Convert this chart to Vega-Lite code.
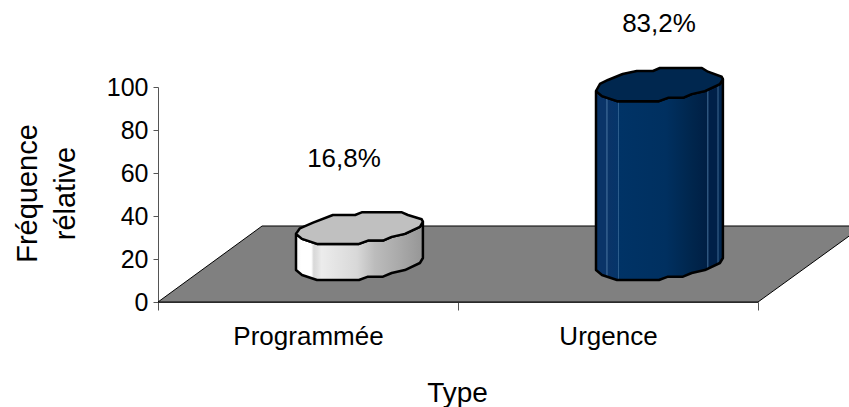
{
  "$schema": "https://vega.github.io/schema/vega-lite/v6.json",
  "width": 600,
  "height": 215,
  "autosize": {"type": "none"},
  "padding": {"left": 158, "top": 87, "right": 91, "bottom": 105},
  "background": "white",
  "config": {
    "view": {"stroke": null},
    "font": "Liberation Sans",
    "axis": {"grid": false, "domainColor": "#555555", "tickColor": "#555555", "labelColor": "black", "titleColor": "black", "labelFont": "Liberation Sans", "titleFont": "Liberation Sans", "labelFontSize": 25, "titleFontSize": 28, "titleFontWeight": "normal"}
  },
  "datasets": {
    "types": [
      {"type": "Programmée", "valeur": 16.8, "etiquette": "16,8%", "xEtiquette": 0.62, "yEtiquette": 66.7},
      {"type": "Urgence", "valeur": 83.2, "etiquette": "83,2%", "xEtiquette": 1.67, "yEtiquette": 129.1}
    ],
    "sol": [
      {"profondeur": 0, "gauche": 0, "droite": 2},
      {"profondeur": 35.35, "gauche": 0.347, "droite": 2.35}
    ],
    "flancs": [
      {"type": "Programmée", "x": 0.46, "bas": 14.88, "haut": 31.68},
      {"type": "Programmée", "x": 0.48, "bas": 12.56, "haut": 29.36},
      {"type": "Programmée", "x": 0.53, "bas": 10.23, "haut": 27.03},
      {"type": "Programmée", "x": 0.67, "bas": 10.23, "haut": 27.03},
      {"type": "Programmée", "x": 0.70, "bas": 11.77, "haut": 28.57},
      {"type": "Programmée", "x": 0.75, "bas": 11.77, "haut": 28.57},
      {"type": "Programmée", "x": 0.779, "bas": 13.49, "haut": 30.29},
      {"type": "Programmée", "x": 0.823, "bas": 14.88, "haut": 31.68},
      {"type": "Programmée", "x": 0.873, "bas": 18.14, "haut": 34.94},
      {"type": "Programmée", "x": 0.883, "bas": 20.47, "haut": 37.27},
      {"type": "Urgence", "x": 1.46, "bas": 14.88, "haut": 98.08},
      {"type": "Urgence", "x": 1.48, "bas": 12.56, "haut": 95.76},
      {"type": "Urgence", "x": 1.53, "bas": 10.23, "haut": 93.43},
      {"type": "Urgence", "x": 1.67, "bas": 10.23, "haut": 93.43},
      {"type": "Urgence", "x": 1.70, "bas": 11.77, "haut": 94.97},
      {"type": "Urgence", "x": 1.75, "bas": 11.77, "haut": 94.97},
      {"type": "Urgence", "x": 1.779, "bas": 13.49, "haut": 96.69},
      {"type": "Urgence", "x": 1.823, "bas": 14.88, "haut": 98.08},
      {"type": "Urgence", "x": 1.873, "bas": 18.14, "haut": 101.34},
      {"type": "Urgence", "x": 1.883, "bas": 20.47, "haut": 103.67}
    ],
    "couvercles": [
      {"type": "Programmée", "rang": 1, "x": 0.46, "y": 31.68},
      {"type": "Programmée", "rang": 2, "x": 0.473, "y": 34.28},
      {"type": "Programmée", "rang": 3, "x": 0.517, "y": 36.88},
      {"type": "Programmée", "rang": 4, "x": 0.583, "y": 40.47},
      {"type": "Programmée", "rang": 5, "x": 0.657, "y": 40.47},
      {"type": "Programmée", "rang": 6, "x": 0.679, "y": 41.72},
      {"type": "Programmée", "rang": 7, "x": 0.813, "y": 41.72},
      {"type": "Programmée", "rang": 8, "x": 0.833, "y": 40.47},
      {"type": "Programmée", "rang": 9, "x": 0.879, "y": 38.47},
      {"type": "Programmée", "rang": 10, "x": 0.883, "y": 37.27},
      {"type": "Programmée", "rang": 11, "x": 0.873, "y": 34.94},
      {"type": "Programmée", "rang": 12, "x": 0.823, "y": 31.68},
      {"type": "Programmée", "rang": 13, "x": 0.779, "y": 30.29},
      {"type": "Programmée", "rang": 14, "x": 0.75, "y": 28.57},
      {"type": "Programmée", "rang": 15, "x": 0.70, "y": 28.57},
      {"type": "Programmée", "rang": 16, "x": 0.67, "y": 27.03},
      {"type": "Programmée", "rang": 17, "x": 0.53, "y": 27.03},
      {"type": "Programmée", "rang": 18, "x": 0.48, "y": 29.36},
      {"type": "Programmée", "rang": 19, "x": 0.46, "y": 31.68},
      {"type": "Urgence", "rang": 1, "x": 1.46, "y": 98.08},
      {"type": "Urgence", "rang": 2, "x": 1.473, "y": 101.4},
      {"type": "Urgence", "rang": 3, "x": 1.5, "y": 103.26},
      {"type": "Urgence", "rang": 4, "x": 1.549, "y": 106.05},
      {"type": "Urgence", "rang": 5, "x": 1.596, "y": 107.44},
      {"type": "Urgence", "rang": 6, "x": 1.65, "y": 107.44},
      {"type": "Urgence", "rang": 7, "x": 1.673, "y": 108.84},
      {"type": "Urgence", "rang": 8, "x": 1.813, "y": 108.84},
      {"type": "Urgence", "rang": 9, "x": 1.833, "y": 107.12},
      {"type": "Urgence", "rang": 10, "x": 1.879, "y": 104.79},
      {"type": "Urgence", "rang": 11, "x": 1.883, "y": 103.67},
      {"type": "Urgence", "rang": 12, "x": 1.873, "y": 101.34},
      {"type": "Urgence", "rang": 13, "x": 1.823, "y": 98.08},
      {"type": "Urgence", "rang": 14, "x": 1.779, "y": 96.69},
      {"type": "Urgence", "rang": 15, "x": 1.75, "y": 94.97},
      {"type": "Urgence", "rang": 16, "x": 1.70, "y": 94.97},
      {"type": "Urgence", "rang": 17, "x": 1.67, "y": 93.43},
      {"type": "Urgence", "rang": 18, "x": 1.53, "y": 93.43},
      {"type": "Urgence", "rang": 19, "x": 1.48, "y": 95.76},
      {"type": "Urgence", "rang": 20, "x": 1.46, "y": 98.08}
    ]
  },
  "layer": [
    {
      "data": {"name": "types"},
      "mark": {"type": "bar", "opacity": 0},
      "encoding": {
        "x": {"field": "type", "type": "nominal", "sort": null, "scale": {"paddingInner": 0, "paddingOuter": 0},
          "axis": {"title": "Type", "labelAngle": 0, "labelPadding": 13, "labelFontSize": 26, "tickBand": "extent", "tickSize": 8, "titleY": 77, "titleX": 299, "titleAnchor": "middle"}},
        "y": {"field": "valeur", "type": "quantitative", "scale": {"domain": [0, 100], "nice": false},
          "axis": {"title": ["Fréquence", "rélative"], "values": [0, 20, 40, 60, 80, 100], "tickSize": 5, "labelPadding": 5, "titleFontSize": 29, "titleLineHeight": 38, "titleX": -116, "titleY": 106, "titleAnchor": "middle"}}
      }
    },
    {
      "data": {"name": "sol"},
      "mark": {"type": "area", "orient": "horizontal", "fill": "#808080", "stroke": "black", "strokeWidth": 1},
      "encoding": {
        "y": {"field": "profondeur", "type": "quantitative", "scale": {"domain": [0, 100], "nice": false}, "axis": null},
        "x": {"field": "gauche", "type": "quantitative", "scale": {"domain": [0, 2], "nice": false}, "axis": null},
        "x2": {"field": "droite"}
      }
    },
    {
      "data": {"name": "flancs"},
      "transform": [{"filter": "datum.type === 'Programmée'"}],
      "mark": {"type": "area", "stroke": "black", "strokeWidth": 2.5, "strokeJoin": "round",
        "fill": {"gradient": "linear", "x1": 0, "y1": 0, "x2": 1, "y2": 0, "stops": [
          {"offset": 0, "color": "#f4f4f4"}, {"offset": 0.04, "color": "#ffffff"}, {"offset": 0.12, "color": "#ffffff"},
          {"offset": 0.14, "color": "#d8d8d8"}, {"offset": 0.17, "color": "#e0e0e0"}, {"offset": 0.2, "color": "#ececec"},
          {"offset": 0.48, "color": "#d8d8d8"}, {"offset": 0.62, "color": "#bcbcbc"}, {"offset": 0.8, "color": "#ababab"}, {"offset": 1, "color": "#969696"}]}},
      "encoding": {
        "x": {"field": "x", "type": "quantitative", "scale": {"domain": [0, 2], "nice": false}, "axis": null},
        "y": {"field": "bas", "type": "quantitative", "scale": {"domain": [0, 100], "nice": false}, "axis": null},
        "y2": {"field": "haut"}
      }
    },
    {
      "data": {"name": "flancs"},
      "transform": [{"filter": "datum.type === 'Urgence'"}],
      "mark": {"type": "area", "stroke": "black", "strokeWidth": 2.5, "strokeJoin": "round",
        "fill": {"gradient": "linear", "x1": 0, "y1": 0, "x2": 1, "y2": 0, "stops": [
          {"offset": 0, "color": "#0a3468"}, {"offset": 0.08, "color": "#0a3468"}, {"offset": 0.085, "color": "#4a76a2"}, {"offset": 0.095, "color": "#0a3468"},
          {"offset": 0.17, "color": "#05356a"}, {"offset": 0.175, "color": "#3a6a98"}, {"offset": 0.185, "color": "#003366"},
          {"offset": 0.55, "color": "#003060"}, {"offset": 0.75, "color": "#00264d"}, {"offset": 0.875, "color": "#001f44"},
          {"offset": 0.88, "color": "#3f6a94"}, {"offset": 0.89, "color": "#002048"}, {"offset": 0.955, "color": "#002048"},
          {"offset": 0.96, "color": "#3f6a94"}, {"offset": 0.97, "color": "#012650"}, {"offset": 1, "color": "#012650"}]}},
      "encoding": {
        "x": {"field": "x", "type": "quantitative", "scale": {"domain": [0, 2], "nice": false}, "axis": null},
        "y": {"field": "bas", "type": "quantitative", "scale": {"domain": [0, 100], "nice": false}, "axis": null},
        "y2": {"field": "haut"}
      }
    },
    {
      "data": {"name": "couvercles"},
      "transform": [{"filter": "datum.type === 'Programmée'"}],
      "mark": {"type": "line", "fill": "#c0c0c0", "stroke": "black", "strokeWidth": 2.5, "strokeJoin": "round"},
      "encoding": {
        "x": {"field": "x", "type": "quantitative", "scale": {"domain": [0, 2], "nice": false}, "axis": null},
        "y": {"field": "y", "type": "quantitative", "scale": {"domain": [0, 100], "nice": false}, "axis": null},
        "order": {"field": "rang", "type": "ordinal"}
      }
    },
    {
      "data": {"name": "couvercles"},
      "transform": [{"filter": "datum.type === 'Urgence'"}],
      "mark": {"type": "line", "fill": "#00274f", "stroke": "black", "strokeWidth": 2.5, "strokeJoin": "round"},
      "encoding": {
        "x": {"field": "x", "type": "quantitative", "scale": {"domain": [0, 2], "nice": false}, "axis": null},
        "y": {"field": "y", "type": "quantitative", "scale": {"domain": [0, 100], "nice": false}, "axis": null},
        "order": {"field": "rang", "type": "ordinal"}
      }
    },
    {
      "data": {"name": "types"},
      "mark": {"type": "text", "fontSize": 26, "font": "Liberation Sans", "color": "black"},
      "encoding": {
        "x": {"field": "xEtiquette", "type": "quantitative", "scale": {"domain": [0, 2], "nice": false}, "axis": null},
        "y": {"field": "yEtiquette", "type": "quantitative", "scale": {"domain": [0, 100], "nice": false}, "axis": null},
        "text": {"field": "etiquette"}
      }
    }
  ],
  "resolve": {"scale": {"x": "independent"}, "axis": {"y": "independent"}}
}
